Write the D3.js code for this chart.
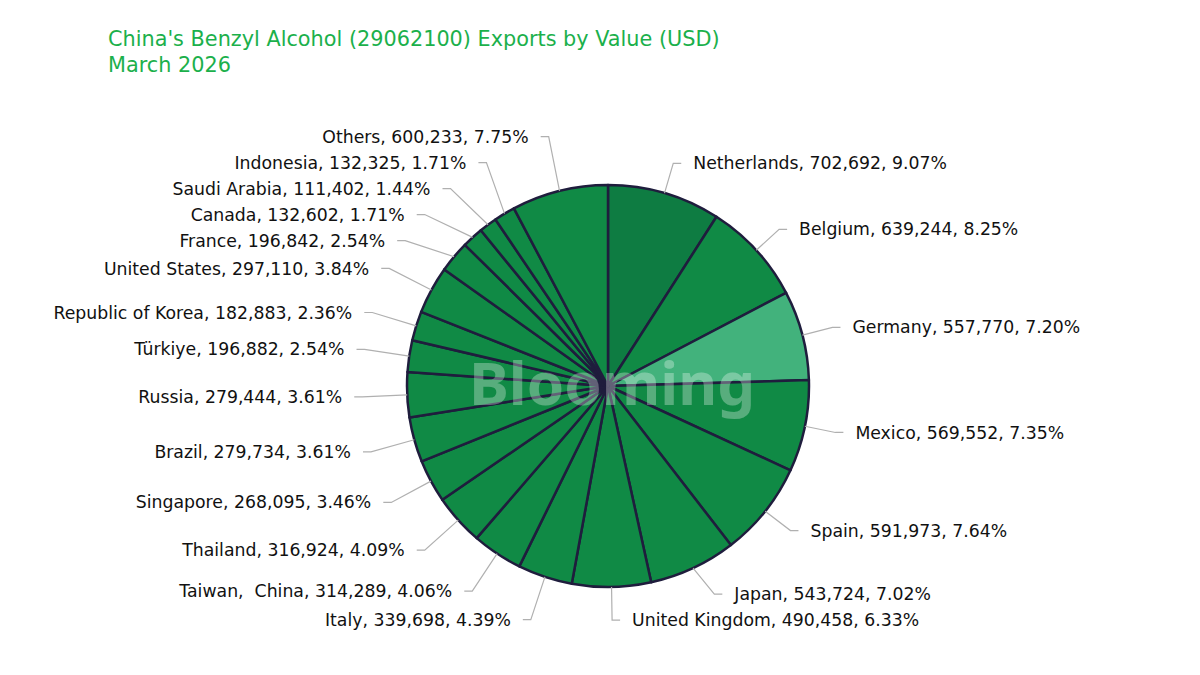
<!DOCTYPE html>
<html>
<head>
<meta charset="utf-8">
<script src="https://cdn.jsdelivr.net/npm/d3@7"></script>
<style>
  body { margin: 0; background: #fff; }
  svg { display: block; font-family: "DejaVu Sans", sans-serif; }
  .lbl { white-space: pre; }
</style>
</head>
<body>
<div id="chart"></div>
<script>
// export partners, clockwise from 12 o'clock
const countries = [
  "Netherlands", "Belgium", "Germany", "Mexico", "Spain", "Japan",
  "United Kingdom", "Italy", "Taiwan,  China", "Thailand", "Singapore",
  "Brazil", "Russia", "Türkiye", "Republic of Korea", "United States",
  "France", "Canada", "Saudi Arabia", "Indonesia", "Others"
];
const values = [
  702692, 639244, 557770, 569552, 591973, 543724,
  490458, 339698, 314289, 316924, 268095,
  279734, 279444, 196882, 182883, 297110,
  196842, 132602, 111402, 132325, 600233
];

const width = 1200, height = 675;
const cx = 608, cy = 386, r = 201;
// labels sit a bit further out on the upper left than elsewhere
const labelRRight = 232, labelRLeft = 246;
const len2 = 8, gap = 12, lineGap = 26;

const baseColor = "#108a45";
const sliceColors = { "Netherlands": "#0e7c42", "Germany": "#42b27c" };

const total = d3.sum(values);
const data = countries.map((c, i) => ({ name: c, value: values[i] }));

const svg = d3.select("#chart").append("svg")
  .attr("width", width)
  .attr("height", height);

// title
svg.append("text")
  .attr("x", 108).attr("y", 46)
  .attr("fill", "#1bb04b")
  .style("font-size", "20.8px")
  .text("China's Benzyl Alcohol (29062100) Exports by Value (USD)");
svg.append("text")
  .attr("x", 108).attr("y", 72)
  .attr("fill", "#1bb04b")
  .style("font-size", "20.8px")
  .text("March 2026");

const pie = d3.pie().sort(null).value(d => d.value);
const arc = d3.arc().innerRadius(0).outerRadius(r);
const arcs = pie(data);

const g = svg.append("g").attr("transform", `translate(${cx},${cy})`);

g.selectAll("path.slice")
  .data(arcs)
  .join("path")
  .attr("class", "slice")
  .attr("d", arc)
  .attr("fill", d => sliceColors[d.data.name] || baseColor)
  .attr("stroke", "#1f1d3d")
  .attr("stroke-width", 2.5)
  .attr("stroke-linejoin", "round");

// label layout: natural position, then spread overlapping ones per side
arcs.forEach(d => {
  d.mid = (d.startAngle + d.endAngle) / 2;
  d.side = Math.sin(d.mid) >= 0 ? 1 : -1;
  d.lr = d.side > 0 ? labelRRight : labelRLeft;
  d.ny = -Math.cos(d.mid) * d.lr;
  d.y = d.ny;
});

function relax(items) {
  items.sort((a, b) => a.ny - b.ny);
  let clusters = items.map(d => ({ items: [d], mean: d.ny }));
  let merged = true;
  while (merged) {
    merged = false;
    for (let i = 0; i < clusters.length - 1; i++) {
      const a = clusters[i], b = clusters[i + 1];
      const aBottom = a.mean + (a.items.length - 1) * lineGap / 2;
      const bTop = b.mean - (b.items.length - 1) * lineGap / 2;
      if (bTop - aBottom < lineGap) {
        const all = a.items.concat(b.items);
        clusters.splice(i, 2, { items: all, mean: d3.mean(all, d => d.ny) });
        merged = true;
        break;
      }
    }
  }
  clusters.forEach(c => c.items.forEach((d, k) => {
    d.y = c.mean + (k - (c.items.length - 1) / 2) * lineGap;
  }));

  // x on an ellipse through the outermost label of each half
  [items.filter(d => d.y < 0), items.filter(d => d.y >= 0)].forEach(semi => {
    if (!semi.length) return;
    const ext = semi.reduce((m, d) => Math.abs(d.y) > Math.abs(m.y) ? d : m);
    const c = Math.abs(Math.cos(ext.mid));
    const rB = c > 0.01 ? Math.max(Math.abs(ext.y) / c, Math.abs(ext.y)) : ext.lr;
    semi.forEach(d => {
      d.dx = d.lr * Math.sqrt(Math.max(0, 1 - (d.y * d.y) / (rB * rB)));
    });
  });
}
relax(arcs.filter(d => d.side > 0));
relax(arcs.filter(d => d.side < 0));

const fmt = d3.format(",");
const pct = v => d3.format(".2f")(v / total * 100) + "%";

g.selectAll("polyline.leader")
  .data(arcs)
  .join("polyline")
  .attr("class", "leader")
  .attr("fill", "none")
  .attr("stroke", "#b0b0b0")
  .attr("stroke-width", 1.2)
  .attr("points", d => {
    const ex = Math.sin(d.mid) * r, ey = -Math.cos(d.mid) * r;
    const bx = d.side * d.dx;
    return [[ex, ey], [bx, d.y], [bx + d.side * len2, d.y]].map(p => p.join(",")).join(" ");
  });

g.selectAll("text.lbl")
  .data(arcs)
  .join("text")
  .attr("class", "lbl")
  .attr("x", d => d.side * (d.dx + len2 + gap))
  .attr("y", d => d.y)
  .attr("dy", "0.35em")
  .attr("text-anchor", d => d.side > 0 ? "start" : "end")
  .attr("fill", "#111")
  .style("font-size", "17.3px")
  .text(d => `${d.data.name}, ${fmt(d.data.value)}, ${pct(d.data.value)}`);

// watermark
svg.append("text")
  .attr("x", 612).attr("y", 405)
  .attr("text-anchor", "middle")
  .attr("fill", "#ffffff")
  .attr("fill-opacity", 0.3)
  .style("font-family", "'Noto Sans', sans-serif")
  .style("font-size", "60px")
  .style("font-weight", "bold")
  .text("Blooming");
</script>
</body>
</html>
